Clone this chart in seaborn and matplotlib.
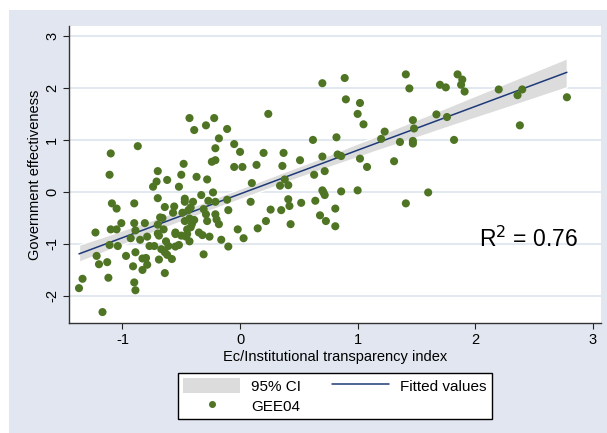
import numpy as np
import pandas as pd
import matplotlib
matplotlib.use("Agg")
import matplotlib.pyplot as plt
import seaborn as sns
from matplotlib.patches import Patch, Rectangle
from matplotlib.lines import Line2D

# Ec/Institutional transparency index vs government effectiveness (GEE04)
transparency = [
    -1.37, -1.34, -1.23, -1.22, -1.20, -1.17, -1.13, -1.12, -1.11, -1.11,
    -1.10, -1.10, -1.09, -1.05, -1.05, -1.04, -1.01, -0.97, -0.93, -0.91,
    -0.90, -0.90, -0.90, -0.89, -0.89, -0.89, -0.87, -0.85, -0.83, -0.83,
    -0.81, -0.80, -0.79, -0.79, -0.77, -0.74, -0.73, -0.71, -0.70, -0.70,
    -0.70, -0.70, -0.69, -0.69, -0.68, -0.67, -0.66, -0.65, -0.64, -0.64,
    -0.64, -0.63, -0.62, -0.62, -0.61, -0.58, -0.57, -0.56, -0.55, -0.55,
    -0.55, -0.52, -0.52, -0.50, -0.50, -0.49, -0.48, -0.47, -0.47, -0.47,
    -0.46, -0.45, -0.45, -0.44, -0.43, -0.43, -0.42, -0.42, -0.43, -0.41,
    -0.40, -0.39, -0.39, -0.37, -0.35, -0.33, -0.32, -0.31, -0.31, -0.29,
    -0.29, -0.28, -0.27, -0.28, -0.26, -0.24, -0.23, -0.22, -0.21, -0.21,
    -0.21, -0.21, -0.20, -0.18, -0.18, -0.16, -0.11, -0.11, -0.10, -0.10,
    -0.05, -0.05, -0.02, 0.00, 0.02, 0.03, 0.09, 0.10, 0.14, 0.15,
    0.20, 0.22, 0.24, 0.26, 0.34, 0.35, 0.36, 0.37, 0.38, 0.41,
    0.41, 0.42, 0.43, 0.51, 0.52, 0.62, 0.63, 0.64, 0.68, 0.70,
    0.70, 0.70, 0.71, 0.72, 0.72, 0.73, 0.81, 0.81, 0.82, 0.83,
    0.86, 0.86, 0.89, 0.90, 1.00, 1.00, 1.02, 1.02, 1.05, 1.08,
    1.20, 1.23, 1.31, 1.36, 1.41, 1.41, 1.44, 1.47, 1.48, 1.47,
    1.47, 1.60, 1.67, 1.70, 1.75, 1.76, 1.82, 1.85, 1.88, 1.89,
    1.91, 2.20, 2.36, 2.38, 2.40, 2.78,
]
effectiveness = [
    -1.85, -1.67, -0.78, -1.23, -1.39, -2.31, -1.35, -1.65, 0.33, -1.02,
    0.74, -0.72, -0.22, -0.32, -0.72, -1.04, -0.60, -1.23, -0.89, -1.43,
    -1.74, -0.22, -0.60, -0.74, -1.16, -1.89, 0.88, -0.92, -1.28, -1.50,
    -0.60, -1.27, -0.86, -1.40, -1.04, 0.10, -1.04, 0.20, 0.40, -0.80,
    -0.12, -0.63, -0.84, -1.30, -0.49, -1.10, -0.50, -0.72, -1.16, -0.29,
    -1.56, -0.95, -1.21, 0.23, -1.04, -1.29, -0.40, -0.28, -1.05, -0.81,
    -0.78, -1.02, 0.10, 0.33, -0.84, -0.40, 0.54, -0.19, -0.56, -0.13,
    -0.86, -0.81, -0.72, -0.35, -0.51, 1.42, -0.30, -0.68, -0.95, -0.62,
    -0.19, -0.54, 1.19, 0.29, -0.78, -0.06, -0.83, -0.33, -1.20, 1.28,
    -0.43, -0.56, -0.17, 0.24, -0.86, 0.58, -0.01, 1.42, -0.43, -0.19,
    0.61, 0.84, -0.53, -0.62, 1.03, -0.92, 1.21, -0.15, -0.35, -1.05,
    0.48, 0.92, -0.72, 0.77, 0.48, -0.89, -0.19, 0.17, 0.52, -0.70,
    0.75, -0.56, 1.50, -0.34, 0.12, -0.35, 0.50, 0.75, 0.24, 0.13,
    -0.14, -0.27, -0.62, 0.61, -0.21, 1.00, 0.33, -0.17, -0.45, 2.09,
    0.68, 0.03, -0.01, -0.06, 0.40, -0.56, -0.32, -0.66, 1.05, 0.72,
    0.69, 0.01, 2.19, 1.78, 1.50, 0.03, 0.64, 1.71, 1.30, 0.48,
    1.02, 1.16, 0.59, 0.96, 2.26, -0.22, 1.99, 1.38, 1.22, 0.98,
    0.93, -0.01, 1.49, 2.06, 2.01, 1.44, 1.00, 2.26, 2.06, 2.16,
    1.93, 1.97, 1.86, 1.28, 1.97, 1.82,
]
x_ticks = [-1, 0, 1, 2, 3]
y_ticks = [-2, -1, 0, 1, 2, 3]

df = pd.DataFrame({"transparency": transparency, "GEE04": effectiveness})

bg = "#E1E6F0"
green = "#4E7424"
navy = "#1E3A78"
ci_gray = "#DCDCDC"

sns.set_style("white")
plt.rcParams["font.family"] = ["Liberation Sans", "DejaVu Sans"]
plt.rcParams["text.color"] = "black"
plt.rcParams["axes.labelcolor"] = "black"
plt.rcParams["xtick.color"] = "black"
plt.rcParams["ytick.color"] = "black"
plt.rcParams["axes.unicode_minus"] = False

fig = plt.figure(figsize=(6.07, 4.33), dpi=100)
fig.patch.set_facecolor("white")
bg_rect = Rectangle((9 / 607, 0), 1, 1 - 10 / 433, transform=fig.transFigure,
                    facecolor=bg, edgecolor="none", zorder=-10)
fig.patches.append(bg_rect)

ax = fig.add_axes([69 / 607, 110 / 433, 532 / 607, 297 / 433])
ax.set_zorder(1)
ax.set_facecolor("white")

for t in y_ticks:
    ax.axhline(t, color="#DCE4EE", lw=1.2, zorder=0)

sns.regplot(data=df, x="transparency", y="GEE04", scatter=False, ax=ax,
            ci=95, seed=3, truncate=True,
            line_kws={"color": navy, "lw": 1.1, "zorder": 3})
for coll in ax.collections:
    coll.set_facecolor(ci_gray)
    coll.set_alpha(1)
    coll.set_zorder(1)
sns.scatterplot(data=df, x="transparency", y="GEE04", ax=ax, color=green,
                s=34, edgecolor="none", zorder=4)

ax.set_xlim(-1.455, 3.07)
ax.set_ylim(-2.52, 3.19)
ax.set_xticks(x_ticks)
ax.set_yticks(y_ticks)
ax.set_yticklabels([str(t) for t in y_ticks], rotation=90, va="center")
ax.tick_params(axis="both", direction="out", length=4, width=0.8, color="#222222",
               labelsize=10.5, pad=3, bottom=True, left=True)
for side in ["top", "right"]:
    ax.spines[side].set_visible(False)
for side in ["left", "bottom"]:
    ax.spines[side].set_color("#333333")
    ax.spines[side].set_linewidth(1.0)

ax.set_xlabel("Ec/Institutional transparency index", fontsize=10.5, labelpad=2)
ax.set_ylabel("Government effectiveness", fontsize=10.5, labelpad=2)

ax.text(2.03, -0.92, "R$^2$ = 0.76", fontsize=16.5, va="center", ha="left",
        color="black", zorder=5)

handles = [
    Patch(facecolor=ci_gray, edgecolor="none"),
    Line2D([], [], ls="none", marker="o", color=green, markersize=4),
    Line2D([], [], color=navy, lw=1.1),
]
labels = ["95% CI", "GEE04", "Fitted values"]
leg = fig.legend(handles, labels, ncol=2, loc="lower center",
                 bbox_to_anchor=(335 / 607, 14 / 433), fontsize=11,
                 frameon=True, fancybox=False, edgecolor="black", framealpha=1,
                 handlelength=3.7, handleheight=1.1, columnspacing=2.0,
                 labelspacing=0.3, borderpad=0.35, handletextpad=0.75,
                 borderaxespad=0)
leg.get_frame().set_linewidth(1.0)
leg.get_frame().set_facecolor("white")

fig.savefig("out.png", dpi=100, facecolor=fig.get_facecolor())
